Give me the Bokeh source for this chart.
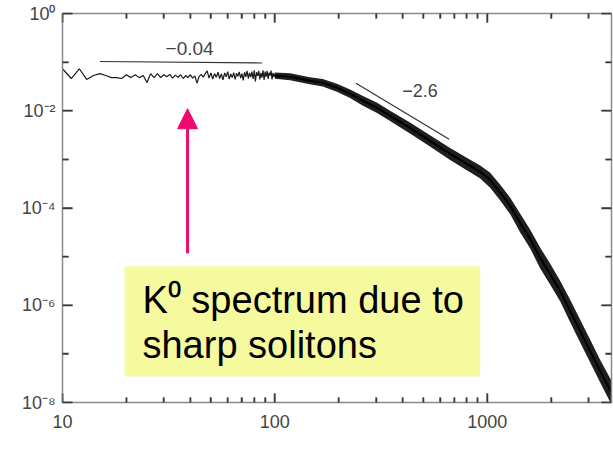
from bokeh.plotting import figure
from bokeh.models import (FixedTicker, LogAxis, CustomJSTickFormatter, BoxAnnotation,
                          Label, Arrow, NormalHead, Range1d, ColumnDataSource)
from bokeh.embed import file_html
from bokeh.resources import INLINE

# ---- data ----
# low-k part: individual modes k = 10..100
k_low = list(range(10, 101))
spec_low = [0.073, 0.046, 0.073, 0.044, 0.053, 0.058, 0.053, 0.048, 0.048, 0.046,
            0.055, 0.048, 0.055, 0.048, 0.053, 0.038, 0.058, 0.048, 0.058, 0.048,
            0.055, 0.050, 0.056, 0.047, 0.054, 0.049, 0.055, 0.046, 0.053, 0.048,
            0.055, 0.047, 0.052, 0.037, 0.051, 0.056, 0.049, 0.058, 0.066, 0.047,
            0.060, 0.045, 0.058, 0.049, 0.062, 0.046, 0.057, 0.043, 0.060, 0.050,
            0.064, 0.045, 0.057, 0.048, 0.061, 0.044, 0.059, 0.051, 0.063, 0.047,
            0.058, 0.042, 0.062, 0.050, 0.066, 0.046, 0.060, 0.049, 0.064, 0.045,
            0.068, 0.040, 0.062, 0.052, 0.066, 0.044, 0.060, 0.048, 0.068, 0.043,
            0.064, 0.050, 0.066, 0.045, 0.061, 0.053, 0.067, 0.044, 0.060, 0.049,
            0.058]
# high-k part: dense noisy band (centre, upper and lower envelope)
k_high = [100, 118, 146, 168, 196, 226, 260, 303, 349, 433, 538, 669, 831, 927,
          1033, 1152, 1284, 1431, 1595, 1778, 1982, 2209, 2463, 2745, 3060, 3411, 3850]
spec_mid = [0.0527, 0.0502, 0.0415, 0.0378, 0.0298, 0.0224, 0.01607, 0.01153, 0.00788,
            0.00446, 0.00241, 0.001298, 0.000734, 0.000555, 0.000380, 0.000210,
            0.0001099, 4.90e-5, 2.294e-5, 9.31e-6, 4.36e-6, 1.943e-6, 7.52e-7,
            2.91e-7, 1.125e-7, 4.36e-8, 1.6e-8]
spec_hi = [0.0610, 0.0590, 0.0490, 0.0450, 0.0360, 0.0275, 0.0200, 0.0146, 0.0100,
           0.00575, 0.00314, 0.00171, 0.00098, 0.00075, 0.00053, 0.000300,
           0.0001620, 7.60e-5, 3.55e-5, 1.52e-5, 7.1e-6, 3.15e-6, 1.28e-6,
           4.95e-7, 1.92e-7, 7.4e-8, 2.8e-8]
spec_lo = [0.0455, 0.0425, 0.0350, 0.0315, 0.0245, 0.0182, 0.01270, 0.00900, 0.00615,
           0.00342, 0.00183, 0.000975, 0.000545, 0.000405, 0.000262, 0.0001420,
           7.40e-5, 3.15e-5, 1.47e-5, 5.7e-6, 2.65e-6, 1.19e-6, 4.4e-7,
           1.70e-7, 6.6e-8, 2.55e-8, 0.9e-8]
# reference power-law slopes
slope1_k = [15, 87]
slope1_v = [0.103, 0.096]
slope1_text = "\u22120.04"
slope2_k = [241, 662]
slope2_v = [0.0366, 0.00258]
slope2_text = "\u22122.6"
# ticks
x_ticks = [10, 100, 1000]
x_minor = [20, 30, 40, 50, 60, 70, 80, 90, 200, 300, 400, 500, 600, 700, 800, 900, 2000, 3000]
y_ticks = [1e-8, 1e-6, 1e-4, 1e-2, 1]
y_minor = [1e-7, 1e-5, 1e-3, 1e-1]
note_lines = ["K\u2070 spectrum due to", "sharp solitons"]

X0, X1 = 10, 3850
Y0, Y1 = 1e-8, 1
PX_PER_DEC_X = 212.0   # frame pixels per decade (horizontal)
PX_PER_DEC_Y = 48.6    # frame pixels per decade (vertical)

PINK = "#EE0A6E"
AXIS = "#8a8a8a"
TICK = "#3c3c3c"
TXT = "#444444"

p = figure(width=613, height=456, x_axis_type="log", y_axis_type="log",
           x_range=Range1d(X0, X1), y_range=Range1d(Y0, Y1),
           output_backend="svg", toolbar_location=None,
           min_border_left=62, min_border_right=2, min_border_top=13, min_border_bottom=54)
p.xgrid.visible = False
p.ygrid.visible = False
p.outline_line_color = None


def style_axis(ax, ticks, minor, maj_len, min_len, show_labels):
    ax.ticker = FixedTicker(ticks=ticks, minor_ticks=minor)
    ax.axis_line_color = AXIS
    ax.axis_line_width = 1.5
    ax.major_tick_in = maj_len
    ax.major_tick_out = 0
    ax.minor_tick_in = min_len
    ax.minor_tick_out = 0
    ax.major_tick_line_color = TICK
    ax.minor_tick_line_color = TICK
    ax.major_tick_line_width = 1.5
    ax.minor_tick_line_width = 1.5
    ax.major_label_text_font = "Liberation Sans"
    ax.major_label_text_font_size = "18px"
    ax.major_label_text_color = TXT
    if not show_labels:
        ax.major_label_text_alpha = 0
        ax.major_label_standoff = 0
        ax.major_label_text_font_size = "2px"


xax = p.xaxis[0]
style_axis(xax, x_ticks, x_minor, 9, 5, True)
xax.formatter = CustomJSTickFormatter(code="return Math.round(tick).toString();")
xax.major_label_standoff = 12

yax = p.yaxis[0]
style_axis(yax, y_ticks, y_minor, 10, 6, True)
yax.formatter = CustomJSTickFormatter(code="""
const sup = {'-':'\u207b','0':'\u2070','1':'\u00b9','2':'\u00b2','3':'\u00b3','4':'\u2074',
             '5':'\u2075','6':'\u2076','7':'\u2077','8':'\u2078','9':'\u2079'};
const e = Math.round(Math.log10(tick));
return '10' + String(e).split('').map(c => sup[c]).join('');
""")
yax.major_label_standoff = 7

top = LogAxis()
style_axis(top, x_ticks, x_minor, 9, 5, False)
p.add_layout(top, "above")
right = LogAxis()
style_axis(right, y_ticks, y_minor, 10, 6, False)
p.add_layout(right, "right")

# spectrum: noisy band with its centre line, and the low-k modes
p.varea(x=k_high, y1=spec_lo, y2=spec_hi, fill_color="black", fill_alpha=0.88)
p.line(x=k_high, y=spec_mid, line_color="black", line_width=2)
p.line(x=k_low, y=spec_low, line_color="#1a1a1a", line_width=1.2)

# slope guides
p.line(x=slope1_k, y=slope1_v, line_color="#333333", line_width=1.2)
p.line(x=slope2_k, y=slope2_v, line_color="#333333", line_width=1.2)
p.add_layout(Label(x=39.7, y=0.19, text=slope1_text, text_align="center",
                   text_baseline="middle", text_font="Liberation Sans",
                   text_font_size="19px", text_color=TXT))
p.add_layout(Label(x=483, y=0.0258, text=slope2_text, text_align="center",
                   text_baseline="middle", text_font="Liberation Sans",
                   text_font_size="18px", text_color=TXT))

# annotation box and arrow
p.add_layout(BoxAnnotation(left=19.6, right=927, bottom=3.44e-8, top=6.37e-6,
                           fill_color="#F5FA9F", fill_alpha=1.0, line_color=None,
                           level="overlay"))
p.add_layout(Label(x=23.8, y=1.268e-6, text=note_lines[0], text_align="left",
                   text_baseline="alphabetic", text_font="Liberation Sans",
                   text_font_size="38px", text_color="black", level="overlay"))
p.add_layout(Label(x=23.8, y=1.496e-7, text=note_lines[1], text_align="left",
                   text_baseline="alphabetic", text_font="Liberation Sans",
                   text_font_size="38px", text_color="black", level="overlay"))
p.add_layout(Arrow(x_start=38.8, y_start=1.18e-5, x_end=38.8, y_end=0.011,
                   line_color=PINK, line_width=3,
                   end=NormalHead(size=20, fill_color=PINK, line_color=PINK)))


# inward tick marks along all four frame edges, drawn last as head-less arrows
def fx(px):
    return 10 ** (px / PX_PER_DEC_X)


def fy(px):
    return 10 ** (px / PX_PER_DEC_Y)


tx0, ty0, tx1, ty1 = [], [], [], []
for vals, ln in ((y_ticks, 10), (y_minor, 6)):
    for v in vals:
        tx0 += [X0, X1]
        tx1 += [X0 * fx(ln), X1 / fx(ln)]
        ty0 += [v, v]
        ty1 += [v, v]
for vals, ln in ((x_ticks, 9), (x_minor, 5)):
    for v in vals:
        tx0 += [v, v]
        tx1 += [v, v]
        ty0 += [Y0, Y1]
        ty1 += [Y0 * fy(ln), Y1 / fy(ln)]
tick_src = ColumnDataSource(dict(x0=tx0, y0=ty0, x1=tx1, y1=ty1))
p.add_layout(Arrow(start=None, end=None, x_start="x0", y_start="y0", x_end="x1", y_end="y1",
                   source=tick_src, line_color=TICK, line_width=1.5, level="overlay"))

open("out.html", "w").write(file_html(p, INLINE))
